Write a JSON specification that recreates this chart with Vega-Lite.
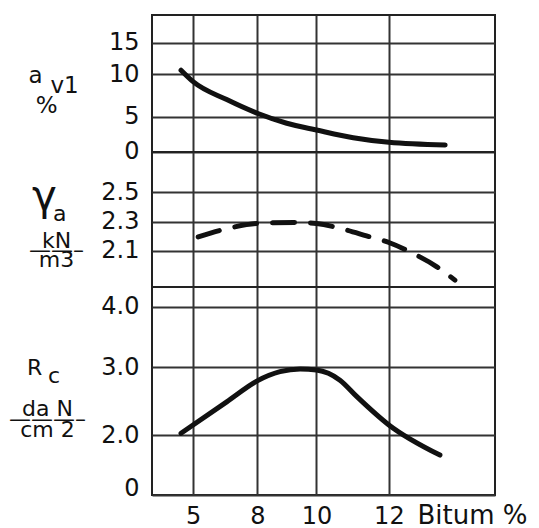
{
  "$schema": "https://vega.github.io/schema/vega-lite/v6.json",
  "background": "white",
  "padding": {"left": 7, "top": 14, "right": 4, "bottom": 2},
  "bounds": "flush",
  "spacing": 0,
  "config": {
    "font": "DejaVu Sans",
    "view": {"stroke": "#222", "strokeWidth": 2},
    "axis": {"domain": false, "ticks": false, "tickSize": 0, "grid": true, "gridColor": "#333", "gridWidth": 2, "gridOpacity": 1, "labelFont": "DejaVu Sans", "labelFontSize": 24, "labelColor": "#111", "titleFont": "DejaVu Sans", "titleColor": "#111", "titleFontWeight": "normal", "titleFontSize": 22},
    "title": {"font": "DejaVu Sans", "color": "#111", "fontWeight": "normal", "subtitleFont": "DejaVu Sans", "subtitleColor": "#111", "subtitleFontSize": 22, "offset": 0}
  },
  "datasets": {
    "av1": [
      {"bitum": 4.2, "value": 10.6},
      {"bitum": 5, "value": 9.1},
      {"bitum": 6.74, "value": 7.0},
      {"bitum": 8, "value": 5.4},
      {"bitum": 9.05, "value": 4.06},
      {"bitum": 10, "value": 3.1},
      {"bitum": 11.06, "value": 2.0},
      {"bitum": 12, "value": 1.34},
      {"bitum": 13.35, "value": 0.96}
    ],
    "gamma": [
      {"bitum": 5.3, "value": 2.195},
      {"bitum": 6.9, "value": 2.257},
      {"bitum": 8, "value": 2.287},
      {"bitum": 9.38, "value": 2.294},
      {"bitum": 10, "value": 2.287},
      {"bitum": 10.78, "value": 2.248},
      {"bitum": 11.42, "value": 2.202},
      {"bitum": 12, "value": 2.157},
      {"bitum": 12.6, "value": 2.082},
      {"bitum": 13.16, "value": 1.991},
      {"bitum": 13.57, "value": 1.9}
    ],
    "rc": [
      {"bitum": 4.2, "value": 2.025},
      {"bitum": 6.74, "value": 2.49},
      {"bitum": 8, "value": 2.8},
      {"bitum": 8.82, "value": 2.935},
      {"bitum": 9.49, "value": 2.975},
      {"bitum": 10, "value": 2.96},
      {"bitum": 10.69, "value": 2.81},
      {"bitum": 11.16, "value": 2.566},
      {"bitum": 12, "value": 2.148},
      {"bitum": 13.23, "value": 1.33}
    ]
  },
  "vconcat": [
    {
      "width": 343,
      "height": 137,
      "data": {"name": "av1"},
      "mark": {"type": "line", "color": "#111", "strokeWidth": 5, "interpolate": "monotone", "strokeCap": "round"},
      "encoding": {
        "x": {"field": "bitum", "type": "quantitative", "scale": {"type": "pow", "exponent": 2, "domain": [0, 14.44], "nice": false, "zero": false}, "axis": {"values": [5, 8, 10, 12], "labels": false, "title": null}},
        "y": {"field": "value", "type": "quantitative", "scale": {"domain": [0, 5, 10, 15, 19.4], "range": [136.7, 101.7, 59, 27.7, 0], "nice": false, "zero": false},
          "axis": {"values": [0, 5, 10, 15], "labelPadding": 13, "title": ["a", "\u200b\u00a0\u00a0\u00a0v1", "\u200b", "\u200b\u00a0%"], "titleAngle": 0, "titleAlign": "left", "titleBaseline": "alphabetic", "titleX": -124, "titleY": 67, "titleLineHeight": 10, "titleFontSize": 23}}
      }
    },
    {
      "width": 343,
      "height": 135,
      "data": {"name": "gamma"},
      "title": {"text": "γ", "subtitle": "\u200b\u00a0\u00a0\u00a0a", "orient": "top", "anchor": "start", "frame": "group", "align": "left", "dx": -120, "dy": 78, "fontSize": 42, "subtitlePadding": -15},
      "mark": {"type": "line", "color": "#111", "strokeWidth": 5, "interpolate": "monotone", "strokeDash": [22, 16], "strokeCap": "round"},
      "encoding": {
        "x": {"field": "bitum", "type": "quantitative", "scale": {"type": "pow", "exponent": 2, "domain": [0, 14.44], "nice": false, "zero": false}, "axis": {"values": [5, 8, 10, 12], "labels": false, "title": null}},
        "y": {"field": "value", "type": "quantitative", "scale": {"domain": [1.853, 2.775], "nice": false, "zero": false},
          "axis": {"values": [2.1, 2.3, 2.5], "format": ".1f", "labelPadding": 13, "title": ["kN", "——–", "m3"], "titleAngle": 0, "titleAlign": "center", "titleBaseline": "alphabetic", "titleX": -96, "titleY": 95, "titleLineHeight": 9.5}}
      }
    },
    {
      "width": 343,
      "height": 208,
      "data": {"name": "rc"},
      "title": {"text": "R", "subtitle": "\u200b\u00a0\u00a0\u00a0c", "orient": "top", "anchor": "start", "frame": "group", "align": "left", "dx": -125, "dy": 105, "fontSize": 22, "subtitlePadding": -14},
      "mark": {"type": "line", "color": "#111", "strokeWidth": 5, "interpolate": "monotone", "strokeCap": "round"},
      "encoding": {
        "x": {"field": "bitum", "type": "quantitative", "scale": {"type": "pow", "exponent": 2, "domain": [0, 14.44], "nice": false, "zero": false},
          "axis": {"values": [5, 8, 10, 12], "labelPadding": 28, "labelBaseline": "alphabetic", "title": "Bitum %", "titleX": 265, "titleY": 28, "titleAlign": "left", "titleBaseline": "alphabetic", "titleFontSize": 26}},
        "y": {"field": "value", "type": "quantitative", "scale": {"domain": [0, 2, 3, 4, 4.325], "range": [208, 148, 80.3, 19.7, 0], "nice": false, "zero": false},
          "axis": {"values": [0, 2, 3, 4], "labelExpr": "datum.value === 0 ? '0' : format(datum.value, '.1f')", "labelOffset": {"condition": {"test": "datum.value === 0", "value": -7}, "value": 0}, "labelPadding": 13, "title": ["da N", "———–", "cm 2"], "titleAngle": 0, "titleAlign": "center", "titleBaseline": "alphabetic", "titleX": -105, "titleY": 128, "titleLineHeight": 10.5}}
      }
    }
  ]
}
